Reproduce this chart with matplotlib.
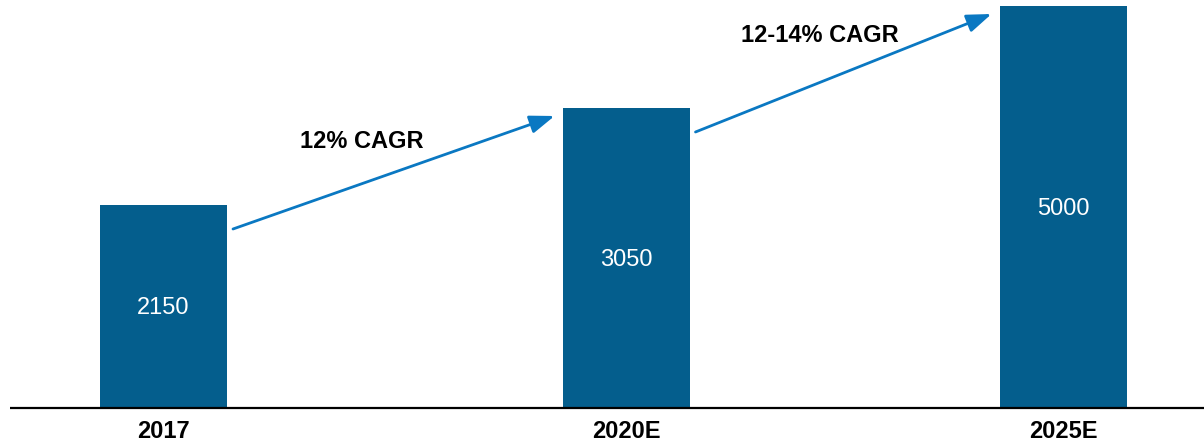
import matplotlib.pyplot as plt

plt.rcParams['font.family'] = ['Liberation Sans', 'DejaVu Sans']

# données
categories = ['2017', '2020E', '2025E']
values = [2150, 3050, 5000]
# hauteurs dessinées (le graphique d'origine n'est pas à l'échelle)
bar_heights = [203, 300, 402]
cagr_labels = ['12% CAGR', '12-14% CAGR']

BAR_COLOR = '#045E8D'
ARROW_COLOR = '#0A78C2'
x_pos = [163.5, 626, 1063]
BAR_W = 127

fig = plt.figure(figsize=(12.04, 4.44), dpi=100)
ax = fig.add_axes([0, 0, 1, 1])
ax.set_xlim(0, 1204)
ax.set_ylim(-36, 408)
ax.axis('off')

bars = ax.bar(x_pos, bar_heights, width=BAR_W, color=BAR_COLOR)
ax.plot([10, 1204], [0, 0], color='black', lw=1.6, solid_capstyle='butt')

for x, h, v, cat in zip(x_pos, bar_heights, values, categories):
    ax.text(x, h / 2 - 2, str(v), color='white', fontsize=17, ha='center', va='center')
    ax.text(x, -23, cat, color='black', fontsize=17, fontweight='bold', ha='center', va='center')

# flèches de croissance entre les barres
label_pos = [(362, 266), (820, 373)]
for i in range(2):
    x0 = x_pos[i] + BAR_W / 2 + 6
    y0 = bar_heights[i] - 24
    x1 = x_pos[i + 1] - BAR_W / 2 - 8
    y1 = bar_heights[i + 1] - 8
    ax.annotate('', xy=(x1, y1), xytext=(x0, y0),
                arrowprops=dict(arrowstyle='-|>,head_length=1.5,head_width=0.55',
                                color=ARROW_COLOR, lw=2, shrinkA=0, shrinkB=0))
    ax.text(label_pos[i][0], label_pos[i][1], cagr_labels[i], fontsize=17,
            fontweight='bold', ha='center', va='center')

fig.savefig('out.png', dpi=100)
